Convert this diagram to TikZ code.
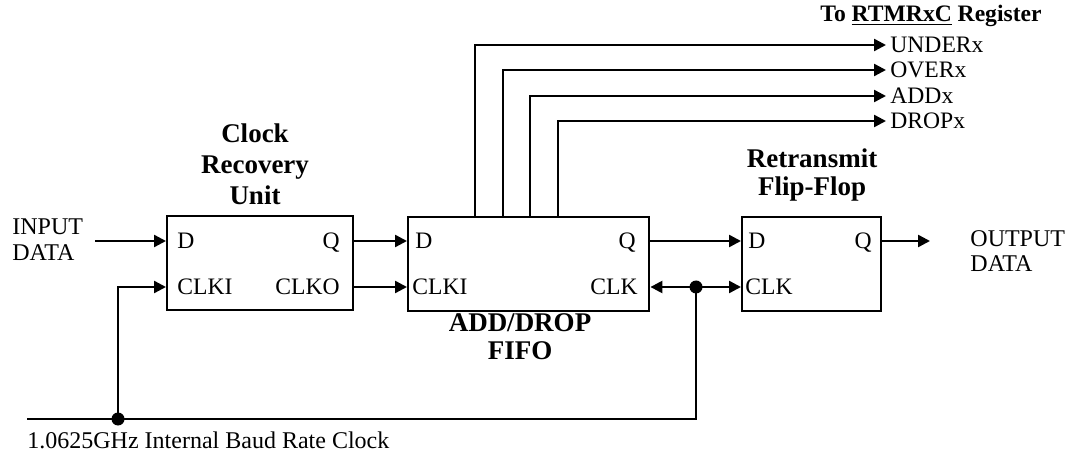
\documentclass[tikz,border=0pt]{standalone}
\usepackage{fontspec}
\setmainfont{Liberation Serif}
\usepackage{tikz}
\usetikzlibrary{arrows.meta, positioning, calc}
\tikzset{
  bloque/.style={rectangle, draw=black, line width=1.2pt, inner sep=0pt,
    anchor=north west, minimum height=47pt},
  puerto/.style={inner sep=0pt, font=\fontsize{11.8}{13}\selectfont,
    text height=7.8pt, text depth=0pt},
  titulo/.style={align=center, inner sep=0pt,
    font=\fontsize{13.5}{14}\selectfont\bfseries},
  texto/.style={align=left, inner sep=0pt, font=\fontsize{12}{13}\selectfont},
  flecha/.style={-{Triangle[length=6pt, width=6pt]}, line width=1.2pt},
  linea/.style={line width=1.2pt},
  punto/.style={circle, fill=black, inner sep=0pt, minimum size=6.5pt}
}

\begin{document}
\begin{tikzpicture}[x=0.5pt, y=-0.5pt]
  \useasboundingbox (0,0) rectangle (1068,453);

  % --- Bloques ---
  \node[bloque, minimum width=93pt]    (cru)  at (166,215) {};
  \node[bloque, minimum width=120.5pt] (fifo) at (407,216) {};
  \node[bloque, minimum width=69.5pt]  (rtf)  at (741,216) {};

  % Titulos
  \node[titulo, font=\fontsize{13.5}{15.5}\selectfont\bfseries] (tcru) at (255,164)
    {Clock\\Recovery\\Unit};
  \node[titulo] (tfifo) at (520,337) {ADD/DROP\\FIFO};
  \node[titulo] (trtf)  at (812,175) {Retransmit\\Flip-Flop};

  % Puertos
  \node[puerto, anchor=west] (cruD)    at (177,241) {D};
  \node[puerto, anchor=west] (cruCLKI) at (177,287) {CLKI};
  \node[puerto, anchor=east] (cruQ)    at (340,241) {Q};
  \node[puerto, anchor=east] (cruCLKO) at (340,287) {CLKO};
  \node[puerto, anchor=west] (fifoD)    at (415,241) {D};
  \node[puerto, anchor=west] (fifoCLKI) at (412,287) {CLKI};
  \node[puerto, anchor=east] (fifoQ)    at (636,241) {Q};
  \node[puerto, anchor=east] (fifoCLK)  at (638,287) {CLK};
  \node[puerto, anchor=west] (rtfD)   at (748,241) {D};
  \node[puerto, anchor=west] (rtfCLK) at (745,287) {CLK};
  \node[puerto, anchor=east] (rtfQ)   at (872,241) {Q};

  % --- Entradas / salidas ---
  \node[texto, anchor=west] (in)  at (12,240) {INPUT\\DATA};
  \node[texto, anchor=west, font=\fontsize{12}{12.5}\selectfont] (out) at (970,251)
    {OUTPUT\\DATA};
  \node[texto, anchor=west] (reloj) at (27,440) {1.0625GHz Internal Baud Rate Clock};
  \node[puerto, font=\fontsize{11.8}{13}\selectfont\bfseries] (reg) at (931,14)
    {To \underline{RTMRxC} Register};

  \coordinate (entrada) at (95,241);
  \coordinate (salida)  at (930,241);
  \coordinate (ini)     at (27,419);
  \node[punto] (p1) at (118,419) {};
  \node[punto] (p2) at (696,287) {};

  % --- Conexiones ---
  \draw[flecha] (entrada) -- (cru.west |- cruD);
  \draw[flecha] (cru.east |- cruQ) -- (fifo.west |- fifoD);
  \draw[flecha] (cru.east |- cruCLKO) -- (fifo.west |- fifoCLKI);
  \draw[flecha] (fifo.east |- fifoQ) -- (rtf.west |- rtfD);
  \draw[flecha] (rtf.east |- rtfQ) -- (salida);

  % reloj
  \draw[linea] (ini) -| (p2.center);
  \draw[flecha] (p1.center) |- (cru.west |- cruCLKI);
  \draw[flecha] (p2.center) -- (fifo.east |- fifoCLK);
  \draw[flecha] (p2.center) -- (rtf.west |- rtfCLK);

  % Estado hacia el registro
  \foreach \x/\y/\nom/\txt in {475/45/under/UNDERx, 503/70/over/OVERx,
                               530/96/add/ADDx, 558/121/drop/DROPx} {
    \node[puerto, anchor=west] (\nom) at (890,\y) {\txt};
    \draw[flecha, shorten >=2pt] (\x,0 |- fifo.north) |- (\nom.west);
  }

\end{tikzpicture}
\end{document}
